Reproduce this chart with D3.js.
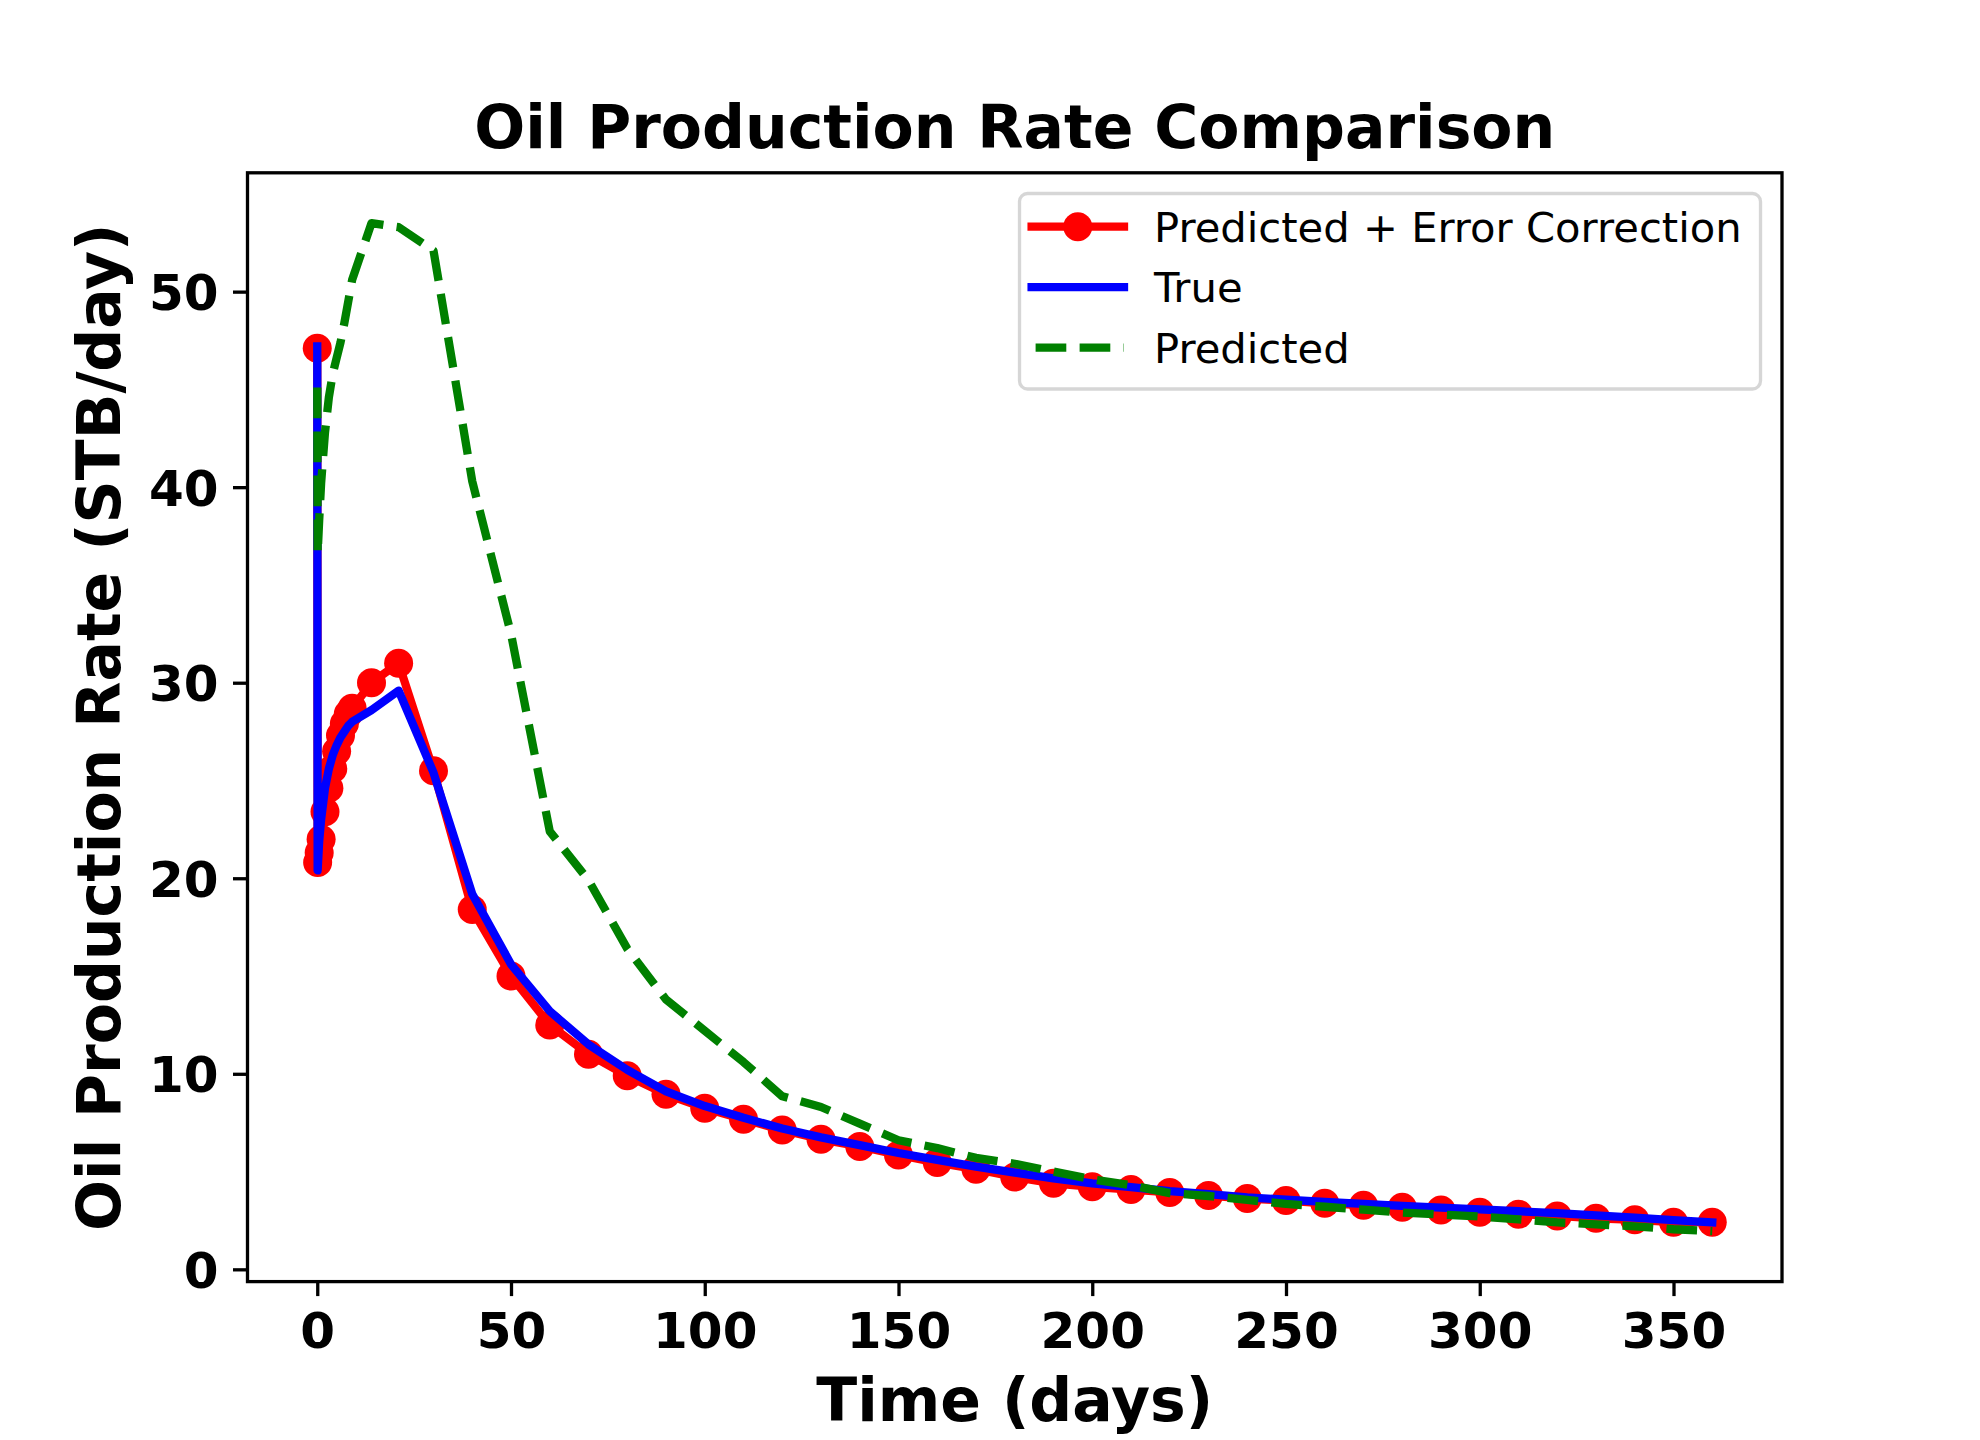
<!DOCTYPE html>
<html>
<head>
<meta charset="utf-8">
<script src="https://cdn.jsdelivr.net/npm/d3@7"></script>
<style>
  body { margin: 0; background: #fff; }
  text { font-family: "DejaVu Sans", sans-serif; }
</style>
</head>
<body>
<script>
const width = 1980;
const height = 1440;

// ---- data ----
const days = [0, 0.1, 0.5, 1, 2, 3, 4, 5, 6, 7, 8, 9, 14, 21, 30, 40, 50, 60, 70, 80, 90,
  100, 110, 120, 130, 140, 150, 160, 170, 180, 190, 200, 210, 220, 230, 240, 250, 260,
  270, 280, 290, 300, 310, 320, 330, 340, 350, 360];

const corrected = [47.1, 20.8, 21.3, 22.0, 23.4, 24.6, 25.6, 26.5, 27.3, 27.9, 28.4, 28.7,
  30.0, 31.0, 25.5, 18.4, 15.0, 12.5, 11.0, 9.9, 8.95, 8.24, 7.67, 7.13, 6.65, 6.28, 5.85,
  5.46, 5.12, 4.72, 4.40, 4.22, 4.08, 3.93, 3.77, 3.62, 3.52, 3.38, 3.28, 3.18, 3.04, 2.92,
  2.82, 2.73, 2.61, 2.53, 2.41, 2.41];

const trueRate = [47.2, 20.4, 21.9, 23.0, 24.6, 25.6, 26.3, 26.8, 27.2, 27.5, 27.8, 28.0,
  28.6, 29.6, 25.4, 19.2, 15.6, 13.2, 11.5, 10.2, 9.1, 8.35, 7.75, 7.2, 6.75, 6.35, 5.95,
  5.6, 5.25, 4.95, 4.65, 4.4, 4.2, 4.0, 3.85, 3.68, 3.56, 3.45, 3.35, 3.25, 3.16, 3.07,
  2.97, 2.87, 2.76, 2.64, 2.52, 2.40];

const predicted = [45.1, 36.6, 38.3, 40.2, 42.8, 44.6, 45.8, 46.6, 47.4, 48.4, 49.5, 50.6,
  53.5, 53.3, 52.1, 40.3, 32.5, 22.4, 19.9, 16.4, 13.8, 12.2, 10.6, 8.85, 8.3, 7.45, 6.6,
  6.2, 5.7, 5.4, 5.0, 4.6, 4.3, 3.9, 3.75, 3.55, 3.35, 3.2, 3.05, 2.9, 2.8, 2.7, 2.55,
  2.4, 2.3, 2.2, 2.05, 1.95];

const xTicks = [0, 50, 100, 150, 200, 250, 300, 350];
const yTicks = [0, 10, 20, 30, 40, 50];
const legendLabels = ["Predicted + Error Correction", "True", "Predicted"];

// ---- layout ----
const axLeft = 247.5, axRight = 1782, axTop = 172.8, axBottom = 1281.6;

const svg = d3.select("body").append("svg")
  .attr("width", width)
  .attr("height", height);

// matplotlib-like 5% autoscale margins
const xExt = d3.extent(days);
const xPad = (xExt[1] - xExt[0]) * 0.05;
const allY = corrected.concat(trueRate, predicted);
const yExt = d3.extent(allY);
const yPad = (yExt[1] - yExt[0]) * 0.05;

const x = d3.scaleLinear().domain([xExt[0] - xPad, xExt[1] + xPad]).range([axLeft, axRight]);
const y = d3.scaleLinear().domain([yExt[0] - yPad, yExt[1] + yPad]).range([axBottom, axTop]);

svg.append("clipPath").attr("id", "plot-clip")
  .append("rect")
  .attr("x", axLeft).attr("y", axTop)
  .attr("width", axRight - axLeft).attr("height", axBottom - axTop);

const lw = 8.3;
const line = (vals) => d3.line().x((d, i) => x(days[i])).y((d) => y(d))(vals);

const plot = svg.append("g").attr("clip-path", "url(#plot-clip)");

// red: predicted + error correction, with markers
plot.append("path")
  .attr("d", line(corrected))
  .attr("fill", "none")
  .attr("stroke", "#ff0000")
  .attr("stroke-width", lw)
  .attr("stroke-linejoin", "round")
  .attr("stroke-linecap", "square");

plot.selectAll("circle.pt")
  .data(corrected)
  .join("circle")
  .attr("class", "pt")
  .attr("cx", (d, i) => x(days[i]))
  .attr("cy", (d) => y(d))
  .attr("r", 14.5)
  .attr("fill", "#ff0000");

// blue: true
plot.append("path")
  .attr("d", line(trueRate))
  .attr("fill", "none")
  .attr("stroke", "#0000ff")
  .attr("stroke-width", lw)
  .attr("stroke-linejoin", "round")
  .attr("stroke-linecap", "square");

// green: predicted (dashed)
plot.append("path")
  .attr("d", line(predicted))
  .attr("fill", "none")
  .attr("stroke", "#008000")
  .attr("stroke-width", lw)
  .attr("stroke-dasharray", "30.7,13.3")
  .attr("stroke-linejoin", "round")
  .attr("stroke-linecap", "butt");

// ---- axes ----
const styleAxis = (g) => {
  g.select(".domain").remove();
  g.selectAll(".tick line").attr("stroke", "#000").attr("stroke-width", 3.3);
  g.selectAll(".tick text")
    .attr("fill", "#000")
    .style("font-family", "'DejaVu Sans', sans-serif")
    .style("font-weight", "bold")
    .style("font-size", "50px");
};

svg.append("g")
  .attr("transform", `translate(0,${axBottom})`)
  .call(d3.axisBottom(x).tickValues(xTicks).tickSize(14.5).tickPadding(16.7).tickFormat(d3.format("d")))
  .call(styleAxis);

svg.append("g")
  .attr("transform", `translate(${axLeft},0)`)
  .call(d3.axisLeft(y).tickValues(yTicks).tickSize(14.5).tickPadding(14.5).tickFormat(d3.format("d")))
  .call(styleAxis)
  .selectAll(".tick text").attr("dy", "0.36em");

// frame (spines)
svg.append("rect")
  .attr("x", axLeft).attr("y", axTop)
  .attr("width", axRight - axLeft).attr("height", axBottom - axTop)
  .attr("fill", "none")
  .attr("stroke", "#000")
  .attr("stroke-width", 3.3);

// ---- titles ----
svg.append("text")
  .attr("x", (axLeft + axRight) / 2).attr("y", 148)
  .attr("text-anchor", "middle")
  .style("font-weight", "bold").style("font-size", "60px")
  .text("Oil Production Rate Comparison");

svg.append("text")
  .attr("x", (axLeft + axRight) / 2).attr("y", 1421)
  .attr("text-anchor", "middle")
  .style("font-weight", "bold").style("font-size", "60px")
  .text("Time (days)");

svg.append("text")
  .attr("transform", `translate(120,${(axTop + axBottom) / 2}) rotate(-90)`)
  .attr("text-anchor", "middle")
  .style("font-weight", "bold").style("font-size", "60px")
  .text("Oil Production Rate (STB/day)");

// ---- legend ----
const legend = svg.append("g");
legend.append("rect")
  .attr("x", 1019.5).attr("y", 193.5)
  .attr("width", 741).attr("height", 195.5)
  .attr("rx", 8).attr("ry", 8)
  .attr("fill", "#fff").attr("fill-opacity", 0.8)
  .attr("stroke", "#cccccc").attr("stroke-opacity", 0.8)
  .attr("stroke-width", 3.3);

const legColors = ["#ff0000", "#0000ff", "#008000"];
const rowY = (i) => 226.7 + i * 60.5;

legend.selectAll("line.h")
  .data(legendLabels)
  .join("line")
  .attr("class", "h")
  .attr("x1", 1031.6).attr("x2", 1124)
  .attr("y1", (d, i) => rowY(i)).attr("y2", (d, i) => rowY(i))
  .attr("stroke", (d, i) => legColors[i])
  .attr("stroke-width", lw)
  .attr("stroke-linecap", (d, i) => (i === 2 ? "butt" : "square"))
  .attr("stroke-dasharray", (d, i) => (i === 2 ? "30.7,13.3" : null))
  .attr("stroke-dashoffset", (d, i) => (i === 2 ? -4 : null));

legend.append("circle")
  .attr("cx", 1077.8).attr("cy", rowY(0))
  .attr("r", 14.5).attr("fill", "#ff0000");

legend.selectAll("text")
  .data(legendLabels)
  .join("text")
  .attr("x", 1154)
  .attr("y", (d, i) => rowY(i) + 15)
  .style("font-size", "41.7px")
  .text((d) => d);
</script>
</body>
</html>
